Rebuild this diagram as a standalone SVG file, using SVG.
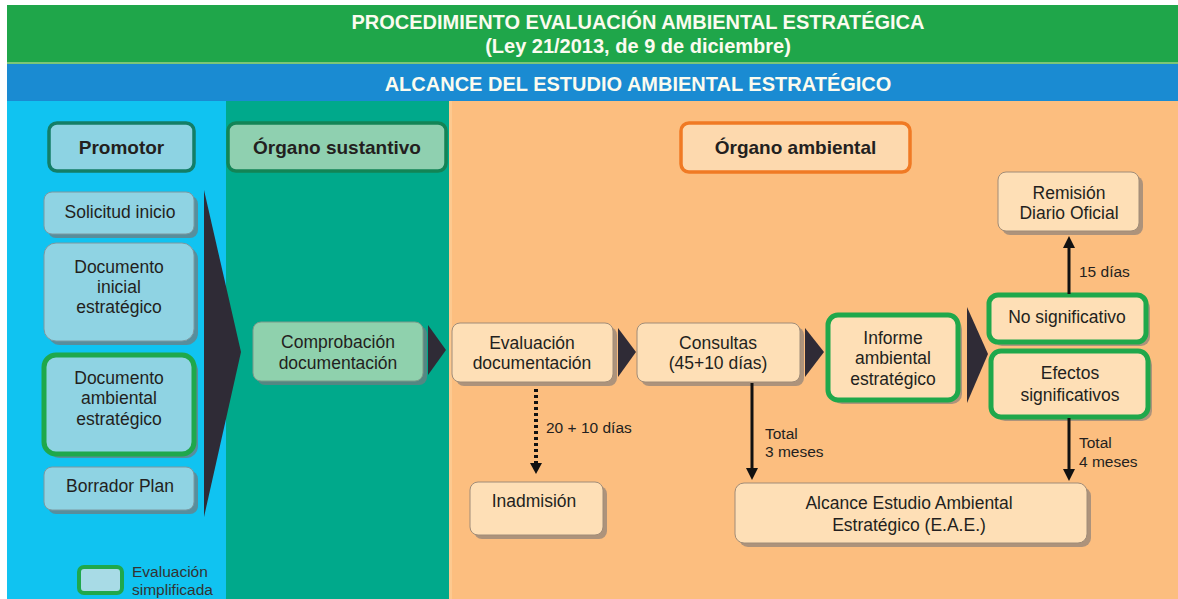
<svg xmlns="http://www.w3.org/2000/svg" width="1178" height="599" viewBox="0 0 1178 599">
<style>
text{font-family:"Liberation Sans",Arial,sans-serif;fill:#231f20;text-anchor:middle}
.hd{font-weight:bold;font-size:20px;fill:#fbfbef}
.lane{font-weight:bold;font-size:19px}
.t{font-size:17.5px}
.lbl{font-size:15.5px;text-anchor:start}
.lg{font-size:15.5px;text-anchor:start;fill:#333}
.bn{fill:#8fd3e3;stroke:#7c98a0;stroke-width:1}
.gn{fill:#8fd1ad;stroke:#7c9a8a;stroke-width:1}
.on{fill:#fedfb6;stroke:#a08c78;stroke-width:1}
.sh{fill:#6f7c80;opacity:0.75}
.osh{fill:#8c8079;opacity:0.7}
.grn{stroke:#1fa84b;stroke-width:5}
.chev{fill:#2f2b36}
.ar{stroke:#111;stroke-width:3;fill:none}
.dot{stroke:#111;stroke-width:4;fill:none;stroke-dasharray:3 3}
</style>

<!-- background bands -->
<rect x="0" y="0" width="1178" height="599" fill="#ffffff"/>
<rect x="7" y="5" width="1171" height="57" fill="#1fa64a"/>
<rect x="7" y="62" width="1171" height="2" fill="#7cc576"/>
<rect x="7" y="64" width="1171" height="37" fill="#1a8bd2"/>
<rect x="7" y="101" width="219" height="498" fill="#10c3f1"/>
<rect x="226" y="101" width="223" height="498" fill="#00a98b"/>
<rect x="449" y="101" width="729" height="498" fill="#fcbe7f"/>
<rect x="449" y="101" width="3" height="498" fill="#fdc98f"/>

<text class="hd" x="638" y="29">PROCEDIMIENTO EVALUACIÓN AMBIENTAL ESTRATÉGICA</text>
<text class="hd" x="638" y="53">(Ley 21/2013, de 9 de diciembre)</text>
<text class="hd" x="638" y="91">ALCANCE DEL ESTUDIO AMBIENTAL ESTRATÉGICO</text>

<!-- lane headers -->
<g id="promotor">
<rect x="49" y="123" width="145" height="48" rx="8" fill="#8dd3e3" stroke="#137e67" stroke-width="3.5"/>
<text class="lane" x="121.5" y="154">Promotor</text>
</g>
<g id="organo-sustantivo">
<rect x="228" y="123" width="218" height="48" rx="8" fill="#8fd0b0" stroke="#138456" stroke-width="3.5"/>
<text class="lane" x="337" y="154">Órgano sustantivo</text>
</g>
<g id="organo-ambiental">
<rect x="681" y="123" width="229" height="49" rx="8" fill="#fdd9ae" stroke="#f07a24" stroke-width="3.5"/>
<text class="lane" x="795.5" y="154">Órgano ambiental</text>
</g>

<!-- promotor documents -->
<g id="solicitud-inicio">
<rect class="sh" x="48" y="196" width="150" height="42" rx="8"/>
<rect class="bn" x="44" y="192" width="150" height="42" rx="8"/>
<text class="t" x="120" y="218">Solicitud inicio</text>
</g>
<g id="documento-inicial">
<rect class="sh" x="48" y="247" width="150" height="98" rx="12"/>
<rect class="bn" x="44" y="243" width="150" height="98" rx="12"/>
<text class="t" x="119" y="273">Documento</text>
<text class="t" x="119" y="293">inicial</text>
<text class="t" x="119" y="313">estratégico</text>
</g>
<g id="documento-ambiental">
<rect class="sh" x="48" y="359" width="150" height="99" rx="12"/>
<rect class="bn grn" x="44" y="355" width="150" height="99" rx="12"/>
<text class="t" x="119" y="384">Documento</text>
<text class="t" x="119" y="404">ambiental</text>
<text class="t" x="119" y="425">estratégico</text>
</g>
<g id="borrador-plan">
<rect class="sh" x="48" y="471" width="150" height="43" rx="8"/>
<rect class="bn" x="44" y="467" width="150" height="43" rx="8"/>
<text class="t" x="120" y="492">Borrador Plan</text>
</g>

<!-- organo sustantivo -->
<g id="comprobacion">
<rect class="sh" x="257" y="326" width="170" height="59" rx="8"/>
<rect class="gn" x="253" y="322" width="170" height="59" rx="8"/>
<text class="t" x="338" y="348">Comprobación</text>
<text class="t" x="338" y="369">documentación</text>
</g>

<!-- organo ambiental -->
<g id="evaluacion">
<rect class="osh" x="456" y="327" width="161" height="59" rx="8"/>
<rect class="on" x="452" y="323" width="161" height="59" rx="8"/>
<text class="t" x="532" y="349">Evaluación</text>
<text class="t" x="532" y="369">documentación</text>
</g>
<g id="consultas">
<rect class="osh" x="641" y="327" width="163" height="59" rx="8"/>
<rect class="on" x="637" y="323" width="163" height="59" rx="8"/>
<text class="t" x="718" y="349">Consultas</text>
<text class="t" x="718" y="369">(45+10 días)</text>
</g>
<g id="informe">
<rect class="osh" x="832" y="319" width="130" height="85" rx="10"/>
<rect class="on grn" x="828" y="315" width="130" height="85" rx="10"/>
<text class="t" x="893" y="344">Informe</text>
<text class="t" x="893" y="364">ambiental</text>
<text class="t" x="893" y="385">estratégico</text>
</g>
<g id="no-significativo">
<rect class="osh" x="993" y="299" width="157" height="47" rx="9"/>
<rect class="on grn" x="989" y="295" width="157" height="47" rx="9"/>
<text class="t" x="1067" y="323">No significativo</text>
</g>
<g id="efectos-significativos">
<rect class="osh" x="995" y="355" width="157" height="66" rx="10"/>
<rect class="on grn" x="991" y="351" width="157" height="66" rx="10"/>
<text class="t" x="1070" y="379">Efectos</text>
<text class="t" x="1070" y="401">significativos</text>
</g>
<g id="remision">
<rect class="osh" x="1002" y="176" width="141" height="59" rx="8"/>
<rect class="on" x="998" y="172" width="141" height="59" rx="8"/>
<text class="t" x="1069" y="199">Remisión</text>
<text class="t" x="1069" y="219">Diario Oficial</text>
</g>
<g id="inadmision">
<rect class="osh" x="474" y="486" width="133" height="53" rx="8"/>
<rect class="on" x="470" y="482" width="133" height="53" rx="8"/>
<text class="t" x="534" y="507">Inadmisión</text>
</g>
<g id="alcance">
<rect class="osh" x="739" y="487" width="352" height="60" rx="9"/>
<rect class="on" x="735" y="483" width="352" height="60" rx="9"/>
<text class="t" x="909" y="509">Alcance Estudio Ambiental</text>
<text class="t" x="909" y="531">Estratégico (E.A.E.)</text>
</g>

<!-- connectors -->
<g id="connectors">
<polygon class="chev" points="204,190 241,352 204,517"/>
<polygon class="chev" points="428,325 446,350 428,375"/>
<polygon class="chev" points="618,328 636,352 618,377"/>
<polygon class="chev" points="805,328 824,352 805,377"/>
<polygon class="chev" points="967,307 988,354 967,403"/>
<line class="dot" x1="536" y1="389" x2="536" y2="465"/>
<path d="M530,463 L542,463 L536,474 Z" fill="#111"/>
<line class="ar" x1="752" y1="383" x2="752" y2="470"/>
<path d="M746,468 L758,468 L752,480 Z" fill="#111"/>
<line class="ar" x1="1069" y1="418" x2="1069" y2="471"/>
<path d="M1063,469 L1075,469 L1069,481 Z" fill="#111"/>
<line class="ar" x1="1069" y1="294" x2="1069" y2="246"/>
<path d="M1063,248 L1075,248 L1069,236 Z" fill="#111"/>
<text class="lbl" x="546" y="433">20 + 10 días</text>
<text class="lbl" x="765" y="439">Total</text>
<text class="lbl" x="765" y="457">3 meses</text>
<text class="lbl" x="1079" y="277">15 días</text>
<text class="lbl" x="1079" y="448">Total</text>
<text class="lbl" x="1079" y="467">4 meses</text>
</g>

<!-- legend -->
<g id="legend">
<rect x="79" y="567" width="43" height="26" rx="5" fill="#a8dbe6" stroke="#1fa84b" stroke-width="4"/>
<text class="lg" x="132" y="577">Evaluación</text>
<text class="lg" x="132" y="595">simplificada</text>
</g>
</svg>
